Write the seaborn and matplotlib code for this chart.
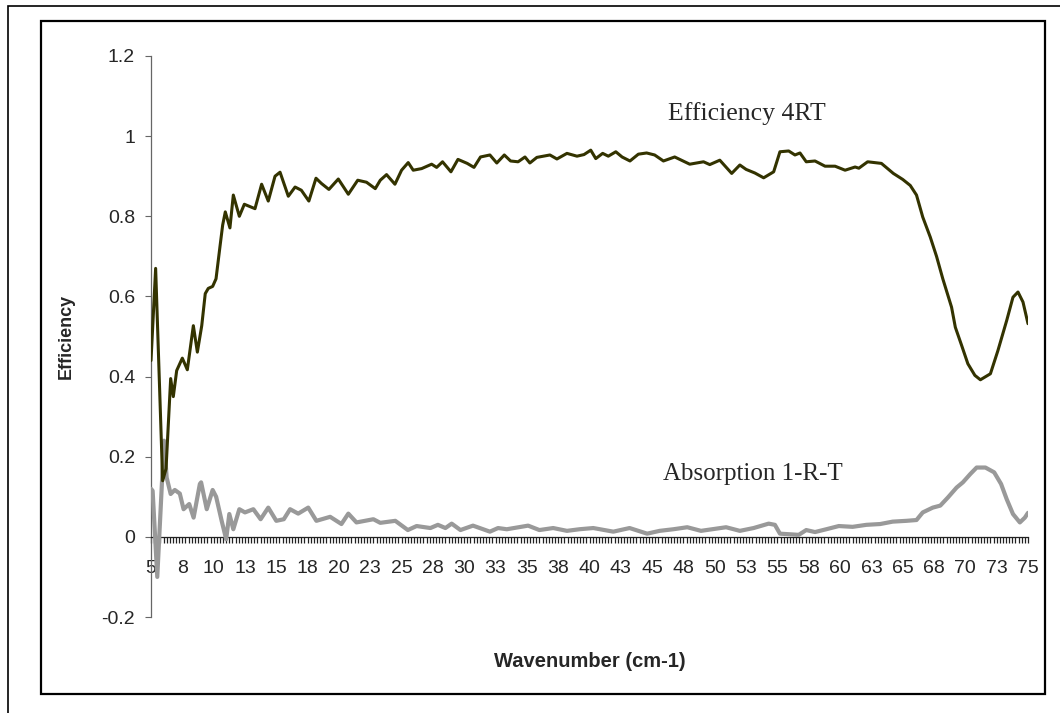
import matplotlib
matplotlib.use("Agg")
import matplotlib.pyplot as plt
from matplotlib.patches import Rectangle
from matplotlib.ticker import MultipleLocator, FixedLocator, FixedFormatter
import seaborn as sns
import pandas as pd

# ---- data ----
eff_wn = [5.0, 5.37, 5.93, 6.2, 6.57, 6.78, 7.05, 7.5, 7.9, 8.38, 8.7, 9.05, 9.33, 9.57, 9.92,
          10.19, 10.5, 10.72, 10.93, 11.3, 11.57, 12.05, 12.45, 13.3, 13.83, 14.36, 14.9, 15.3,
          15.96, 16.5, 17.0, 17.6, 18.17, 18.6, 19.2, 19.95, 20.75, 21.5, 22.2, 22.9, 23.3, 23.8,
          24.47, 25.0, 25.53, 25.93, 26.6, 27.4, 27.8, 28.27, 28.94, 29.5, 30.24, 30.78, 31.3,
          32.05, 32.6, 33.2, 33.7, 34.3, 34.85, 35.24, 35.8, 36.84, 37.4, 38.2, 39.0, 39.56,
          40.1, 40.5, 41.05, 41.5, 42.1, 42.6, 43.23, 43.9, 44.56, 45.2, 45.9, 46.8, 48.0,
          49.1, 49.6, 50.4, 51.35, 52.0, 52.5, 53.2, 53.9, 54.7, 55.2, 55.9, 56.4, 56.8, 57.3,
          58.0, 58.8, 59.6, 60.4, 61.2, 61.5, 62.2, 63.3, 64.25, 65.0, 65.6, 66.1, 66.6, 67.2,
          67.7, 68.2, 68.9, 69.2, 69.7, 70.2, 70.76, 71.2, 72.0, 72.6, 73.3, 73.8, 74.2, 74.6, 75.0]
eff_val = [0.44, 0.67, 0.14, 0.17, 0.395, 0.35, 0.415, 0.446, 0.417, 0.527, 0.461, 0.527, 0.607,
           0.62, 0.625, 0.644, 0.723, 0.778, 0.811, 0.771, 0.853, 0.8, 0.83, 0.819, 0.88, 0.838,
           0.9, 0.91, 0.85, 0.873, 0.865, 0.838, 0.895, 0.882, 0.867, 0.893, 0.855, 0.89, 0.885,
           0.869, 0.89, 0.904, 0.88, 0.915, 0.934, 0.915, 0.919, 0.93, 0.922, 0.936, 0.911, 0.942,
           0.932, 0.922, 0.948, 0.953, 0.933, 0.953, 0.938, 0.936, 0.948, 0.933, 0.947, 0.953,
           0.943, 0.957, 0.95, 0.954, 0.965, 0.944, 0.957, 0.95, 0.961, 0.948, 0.938, 0.955,
           0.958, 0.953, 0.938, 0.948, 0.93, 0.936, 0.929, 0.94, 0.907, 0.928, 0.917, 0.908,
           0.896, 0.911, 0.961, 0.963, 0.953, 0.958, 0.936, 0.938, 0.925, 0.925, 0.915, 0.923,
           0.92, 0.936, 0.932, 0.907, 0.892, 0.877, 0.853, 0.798, 0.748, 0.7, 0.644, 0.573,
           0.523, 0.478, 0.432, 0.403, 0.392, 0.407, 0.465, 0.54, 0.598, 0.611, 0.586, 0.532]

abs_wn = [5.0, 5.13, 5.5, 6.04, 6.25, 6.57, 6.9, 7.3, 7.6, 8.05, 8.4, 8.9, 9.0, 9.45, 9.92, 10.2,
          10.64, 11.0, 11.25, 11.57, 12.05, 12.5, 13.17, 13.75, 14.36, 15.0, 15.6, 16.1, 16.75,
          17.55, 18.2, 19.3, 20.2, 20.75, 21.4, 22.75, 23.3, 24.5, 25.5, 26.2, 27.3, 27.9, 28.5,
          29.0, 29.7, 30.7, 32.05, 32.7, 33.4, 35.1, 36.0, 37.1, 38.2, 39.2, 40.3, 41.9, 43.2,
          44.6, 45.6, 46.7, 47.8, 48.9, 50.9, 52.0, 53.1, 54.3, 54.8, 55.2, 56.7, 57.3, 58.0,
          58.9, 59.9, 61.0, 62.1, 63.2, 64.2, 65.3, 66.1, 66.6, 67.4, 68.0, 68.6, 69.3, 69.8,
          70.4, 70.9, 71.6, 72.3, 72.85, 73.3, 73.8, 74.35, 74.75, 75.0]
abs_val = [0.12, 0.115, -0.1, 0.24, 0.148, 0.107, 0.117, 0.108, 0.069, 0.082, 0.048, 0.132, 0.136,
           0.069, 0.117, 0.10, 0.04, -0.006, 0.057, 0.019, 0.069, 0.061, 0.069, 0.044, 0.073,
           0.04, 0.044, 0.069, 0.058, 0.073, 0.04, 0.05, 0.032, 0.058, 0.036, 0.044, 0.035, 0.04,
           0.017, 0.027, 0.022, 0.03, 0.022, 0.033, 0.017, 0.028, 0.013, 0.022, 0.019, 0.028,
           0.017, 0.022, 0.015, 0.019, 0.022, 0.013, 0.022, 0.008, 0.015, 0.019, 0.024, 0.015,
           0.024, 0.015, 0.022, 0.033, 0.03, 0.008, 0.005, 0.017, 0.012, 0.019, 0.027, 0.025,
           0.03, 0.032, 0.038, 0.04, 0.042, 0.061, 0.073, 0.078, 0.098, 0.123, 0.136, 0.157,
           0.173, 0.173, 0.161, 0.132, 0.094, 0.057, 0.036, 0.048, 0.06]

x_major = [5 + 2.5 * i for i in range(29)]
x_tick_labels = ["5", "8", "10", "13", "15", "18", "20", "23", "25", "28", "30", "33", "35", "38",
                 "40", "43", "45", "48", "50", "53", "55", "58", "60", "63", "65", "68", "70",
                 "73", "75"]
y_ticks = [-0.2, 0.0, 0.2, 0.4, 0.6, 0.8, 1.0, 1.2]
y_tick_labels = ["-0.2", "0", "0.2", "0.4", "0.6", "0.8", "1", "1.2"]

eff_label = "Efficiency 4RT"
abs_label = "Absorption 1-R-T"

# ---- drawing ----
sns.set_style("white")
plt.rcParams["font.family"] = ["Liberation Sans", "DejaVu Sans"]

fig = plt.figure(figsize=(10.6, 7.13), dpi=100)
ax = fig.add_axes([151 / 1060, 1 - 617 / 713, (1028 - 151) / 1060, (617 - 56) / 713])

df_eff = pd.DataFrame({"wn": eff_wn, "v": eff_val})
df_abs = pd.DataFrame({"wn": abs_wn, "v": abs_val})

sns.lineplot(data=df_abs, x="wn", y="v", ax=ax, color="#999999", linewidth=3.0,
             sort=False, estimator=None, zorder=3)
sns.lineplot(data=df_eff, x="wn", y="v", ax=ax, color="#333300", linewidth=2.2,
             sort=False, estimator=None, zorder=4)

ax.set_xlim(5, 75)
ax.set_ylim(-0.2, 1.2)

ax.spines["top"].set_visible(False)
ax.spines["right"].set_visible(False)
ax.spines["bottom"].set_position(("data", 0))
ax.spines["bottom"].set_color("#222222")
ax.spines["left"].set_color("#666666")
ax.spines["bottom"].set_linewidth(0.9)
ax.spines["left"].set_linewidth(0.9)

ax.xaxis.set_major_locator(FixedLocator(x_major))
ax.xaxis.set_major_formatter(FixedFormatter(x_tick_labels))
ax.xaxis.set_minor_locator(MultipleLocator(0.25))
ax.tick_params(axis="x", which="both", direction="out", length=4.5, width=0.9,
               color="#222222", bottom=True, labelsize=14, pad=12)

ax.set_yticks(y_ticks)
ax.set_yticklabels(y_tick_labels)
ax.tick_params(axis="y", which="major", direction="out", length=4.5, width=0.8,
               color="#666666", left=True, labelsize=14, pad=7)

ax.set_xlabel("Wavenumber (cm-1)", fontsize=14.5, fontweight="bold")
ax.set_ylabel("Efficiency", fontsize=13, fontweight="bold")
ax.xaxis.set_label_coords(0.5, (617 - 652) / (617 - 56))
ax.yaxis.set_label_coords((75 - 151) / (1028 - 151), 0.5)

ax.text(46.26, 1.0575, eff_label, fontsize=18.5, family=["Liberation Serif", "DejaVu Serif"],
        va="center", ha="left")
ax.text(45.86, 0.1575, abs_label, fontsize=18, family=["Liberation Serif", "DejaVu Serif"],
        va="center", ha="left")

# chart frames
fig.add_artist(Rectangle((41 / 1060, 1 - 694 / 713), (1045 - 41) / 1060, (694 - 21) / 713,
                         transform=fig.transFigure, fill=False, edgecolor="black", linewidth=1.6))
fig.add_artist(Rectangle((8 / 1060, -0.5), 1.5, 0.5 + (1 - 6 / 713),
                         transform=fig.transFigure, fill=False, edgecolor="black", linewidth=1.2))

fig.savefig("out.png", dpi=100)
